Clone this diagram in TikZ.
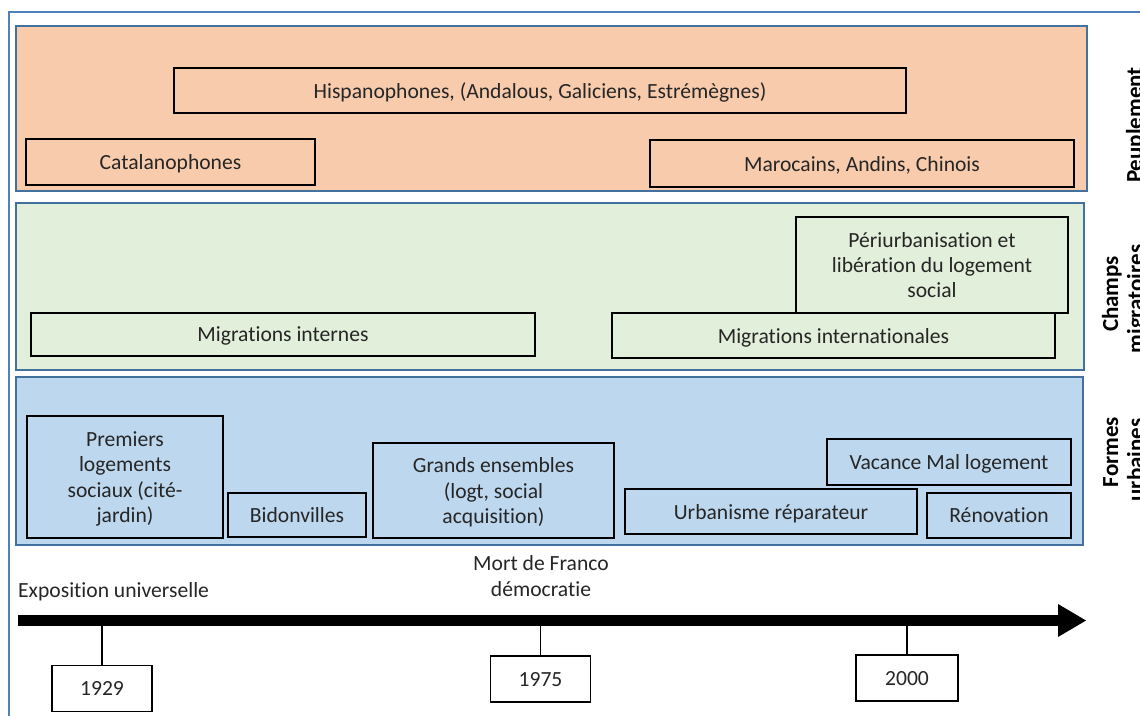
\documentclass[tikz,border=0pt]{standalone}
\usepackage{fontspec}
\setmainfont{Carlito}[Ligatures={NoCommon}]
\definecolor{frameblue}{HTML}{4F81BD}
\definecolor{panelblue}{HTML}{41719C}
\definecolor{peach}{HTML}{F8CBAD}
\definecolor{palegreen}{HTML}{E2EFDA}
\definecolor{paleblue}{HTML}{BDD7EE}
\definecolor{txt}{HTML}{262626}
\begin{document}
\begin{tikzpicture}[x=1pt,y=-1pt,
  panel/.style={draw=panelblue,line width=2pt},
  bx/.style={draw=black,line width=1.6pt,align=center,inner sep=0pt,text=txt,text depth=0pt,
    font=\fontsize{21.6}{25.3}\selectfont},
  yearbox/.style={draw=black,line width=1.4pt,fill=white,inner sep=0pt,text=txt,text depth=0pt,
    minimum width=100pt,minimum height=46pt,font=\fontsize{21.6}{25.3}\selectfont},
  lab/.style={text=txt,font=\fontsize{21.6}{25.3}\selectfont,inner sep=0pt,align=center},
  side/.style={text=black,font=\fontsize{23}{25}\selectfont\bfseries,inner sep=0pt,rotate=90,anchor=base},
  tick/.style={draw=black,line width=1.4pt}]
\useasboundingbox (0,0) rectangle (1140,715);
\clip (0,0) rectangle (1140,715);
\fill[white] (0,0) rectangle (1140,715);
% outer frame
\draw[frameblue,line width=2pt] (9,1200) -- (9,12) -- (1300,12);
% panels
\draw[panel,fill=peach] (16,26) rectangle (1087,191);
\draw[panel,fill=palegreen] (16,203) rectangle (1084,370);
\draw[panel,fill=paleblue] (16,377) rectangle (1083,545);
% Peuplement boxes
\node[bx,minimum width=732pt,minimum height=45pt] (hisp) at (540,90.5) {Hispanophones, (Andalous, Galiciens, Estrémègnes)};
\node[bx,minimum width=289pt,minimum height=46pt] (cat) at (170.5,162) {Catalanophones};
\node[bx,minimum width=424pt,minimum height=47pt] (maro) at (862,163.5) {Marocains, Andins, Chinois};
% Champs migratoires boxes
\node[bx,minimum width=272pt,minimum height=96pt] (peri) at (932,265) {Périurbanisation et\\libération du logement\\social};
\node[bx,minimum width=504pt,minimum height=43pt] (mint) at (283,334.5) {Migrations internes};
\node[bx,minimum width=443pt,minimum height=45pt,fill=palegreen] (minter) at (833.5,335.5) {Migrations internationales};
% Formes urbaines boxes
\node[bx,minimum width=196pt,minimum height=122pt] (prem) at (125,477) {Premiers\\logements\\sociaux (cité-\\jardin)};
\node[bx,minimum width=138pt,minimum height=44pt] (bido) at (297,515) {Bidonvilles};
\node[bx,minimum width=241pt,minimum height=95pt] (gran) at (493.5,490.5) {Grands ensembles\\(logt, social\\acquisition)};
\node[bx,minimum width=244pt,minimum height=46pt] (vac) at (949,462) {Vacance Mal logement};
\node[bx,minimum width=292pt,minimum height=45pt] (urb) at (771,511.5) {Urbanisme réparateur};
\node[bx,minimum width=144pt,minimum height=45pt] (reno) at (999,515.5) {Rénovation};
% side labels (cut off at the right edge as in the reference)
\node[side] (peup) at (1142,125) {Peuplement};
\node[side] (champsA) at (1118,294) {Champs};
\node[side] (champsB) at (1143,299) {migratoires};
\node[side] (formesA) at (1118,452) {Formes};
\node[side] (formesB) at (1143,460) {urbaines};
% timeline
\coordinate (tstart) at (18,620);
\coordinate (tend) at (1060,620);
\draw[black,line width=11pt] (tstart) -- (tend);
\fill[black] (1058,604) -- (1086,620.5) -- (1058,637) -- cycle;
\node[lab,anchor=west] (expo) at (18,591.5) {Exposition universelle};
\node[lab] (franco) at (541,576) {Mort de Franco\\démocratie};
\node[yearbox] (y1929) at (102,688.5) {1929};
\node[yearbox] (y1975) at (540.5,679) {1975};
\node[yearbox,minimum width=102pt] (y2000) at (907,678) {2000};
\draw[tick] (y1929.north) -- (y1929.north |- tend);
\draw[tick] (y1975.north) -- (y1975.north |- tend);
\draw[tick] (y2000.north) -- (y2000.north |- tend);
\end{tikzpicture}
\end{document}
